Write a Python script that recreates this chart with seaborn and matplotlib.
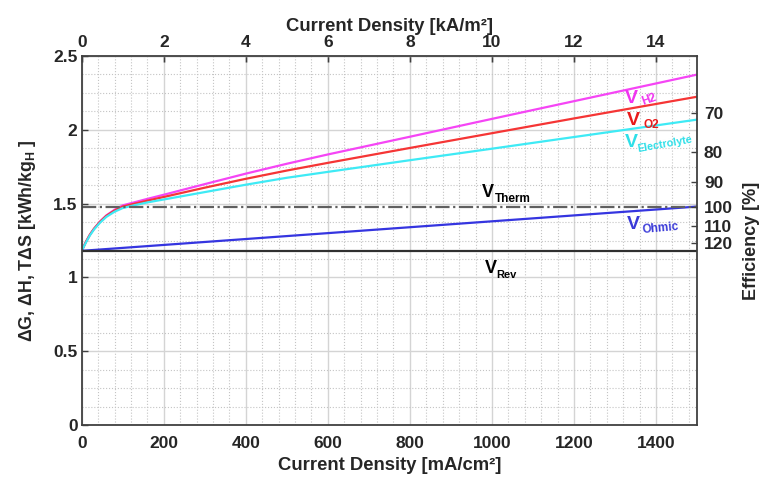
import numpy as np
import pandas as pd
import matplotlib
matplotlib.use("Agg")
import matplotlib.pyplot as plt
import seaborn as sns
from matplotlib.ticker import MultipleLocator

# ── Data ──────────────────────────────────────────────────────
x_pts = [0, 10, 20, 30, 45, 60, 80, 100, 130, 160, 200, 300, 400, 500, 600, 800, 1000, 1200, 1500]
v_h2 = [1.18, 1.24, 1.29, 1.33, 1.38, 1.42, 1.458, 1.488, 1.51, 1.532, 1.56,
        1.632, 1.703, 1.770, 1.833, 1.953, 2.074, 2.194, 2.374]
v_o2 = [1.18, 1.24, 1.29, 1.33, 1.378, 1.417, 1.453, 1.48, 1.50, 1.52, 1.545,
        1.608, 1.668, 1.724, 1.776, 1.877, 1.977, 2.077, 2.224]
v_elec = [1.18, 1.235, 1.285, 1.325, 1.372, 1.41, 1.445, 1.47, 1.49, 1.508, 1.528,
          1.578, 1.628, 1.675, 1.715, 1.794, 1.872, 1.951, 2.069]
x_ohm = [0, 1500]
v_ohm = [1.18, 1.48]
v_rev = 1.18
v_therm = 1.48
eff_ticks = [70, 80, 90, 100, 110, 120]

bottom_ticks = [0, 200, 400, 600, 800, 1000, 1200, 1400]
top_ticks = [0, 2, 4, 6, 8, 10, 12, 14]

# ── Style ─────────────────────────────────────────────────────
sns.set_style("white")
plt.rcParams["font.family"] = ["Liberation Sans", "DejaVu Sans"]
plt.rcParams["font.weight"] = "bold"
plt.rcParams["mathtext.fontset"] = "custom"
plt.rcParams["mathtext.rm"] = "Liberation Sans:bold"
plt.rcParams["mathtext.bf"] = "Liberation Sans:bold"
plt.rcParams["mathtext.it"] = "Liberation Sans:bold"

fig = plt.figure(figsize=(7.61, 4.80), dpi=100)
ax = fig.add_axes([0.1074, 0.1146, 0.8085, 0.7687])

curves = pd.DataFrame({"x": x_pts, "H2": v_h2, "O2": v_o2, "Elec": v_elec})
sns.lineplot(data=curves, x="x", y="H2", ax=ax, color="#f545f5", lw=1.6)
sns.lineplot(data=curves, x="x", y="O2", ax=ax, color="#f53535", lw=1.6)
sns.lineplot(data=curves, x="x", y="Elec", ax=ax, color="#3eeaf5", lw=1.6)
sns.lineplot(x=x_ohm, y=v_ohm, ax=ax, color="#3535e0", lw=1.6)
ax.axhline(v_rev, color="#303030", lw=1.6)
ax.axhline(v_therm, color="#606060", lw=1.6, ls="-.")

ax.set_xlim(0, 1500)
ax.set_ylim(0, 2.5)
ax.set_xticks(bottom_ticks)
ax.set_yticks([0, 0.5, 1, 1.5, 2, 2.5])
ax.set_yticklabels(["0", "0.5", "1", "1.5", "2", "2.5"])
ax.xaxis.set_minor_locator(MultipleLocator(40))
ax.yaxis.set_minor_locator(MultipleLocator(0.125))
ax.grid(which="major", color="#d4d4d4", lw=1.0, ls="-")
ax.grid(which="minor", color="#c4c4c4", lw=0.8, ls=":")
ax.set_axisbelow(True)
ax.tick_params(which="major", direction="in", length=4, width=1, color="#404040",
               labelsize=12.5, pad=3, top=True, right=True)
ax.tick_params(axis="x", pad=8)
ax.tick_params(which="minor", length=0)
for s in ax.spines.values():
    s.set_color("#404040")
    s.set_linewidth(1.3)

ax.set_xlabel("Current Density [mA/cm²]", fontsize=13.3, fontweight="bold", labelpad=4)
ax.set_ylabel(r"$\Delta$G, $\Delta$H, T$\Delta$S [kWh/kg$_\mathregular{H}$ ]",
              fontsize=12.8, fontweight="bold", labelpad=11)

# Top axis: kA/m²
top = ax.secondary_xaxis("top", functions=(lambda v: v / 100, lambda v: v * 100))
top.set_xticks(top_ticks)
top.tick_params(direction="in", length=4, width=1, color="#404040", labelsize=12.5, pad=4)
top.set_xlabel("Current Density [kA/m²]", fontsize=13.3, fontweight="bold", labelpad=3)

# Right axis: efficiency relative to thermoneutral voltage
ax2 = ax.twinx()
ax2.set_ylim(0, 2.5)
ax2.set_yticks([v_therm * 100 / e for e in eff_ticks])
ax2.set_yticklabels([str(e) for e in eff_ticks])
ax2.tick_params(direction="in", length=4, width=1, color="#404040", labelsize=12.5, pad=5)
ax2.set_ylabel("Efficiency [%]", fontsize=13, fontweight="bold", labelpad=7)
for s in ax2.spines.values():
    s.set_visible(False)


# Curve labels: big "V" plus a small (sometimes tilted) subscript
def vlabel(x, y, sub, color, size, dx, dy, rot=0, subsize=8.5):
    ax.text(x, y, "V", color=color, fontsize=size, fontweight="bold",
            ha="left", va="baseline")
    ax.annotate(sub, xy=(x, y), xytext=(dx, dy), textcoords="offset points",
                color=color, fontsize=subsize, fontweight="bold", ha="left",
                va="baseline", rotation=rot, rotation_mode="anchor")


vlabel(1325, 2.182, "H2", "#f033f0", 14, 13, -1.4, rot=20)
vlabel(1328, 2.033, "O2", "#e81a1a", 14, 12.2, -2.2)
vlabel(1323, 1.883, "Electrolyte", "#2edfe8", 14, 9.4, -3.6, rot=10, subsize=7.8)
vlabel(1330, 1.328, "Ohmic", "#3a3ad8", 14, 10.8, -2.9, rot=5)
vlabel(975, 1.545, "Therm", "black", 13, 9.4, -3.6)
vlabel(982, 1.030, "Rev", "black", 13, 8.6, -3.6, subsize=8)

fig.savefig("out.png", dpi=100, facecolor="white")
